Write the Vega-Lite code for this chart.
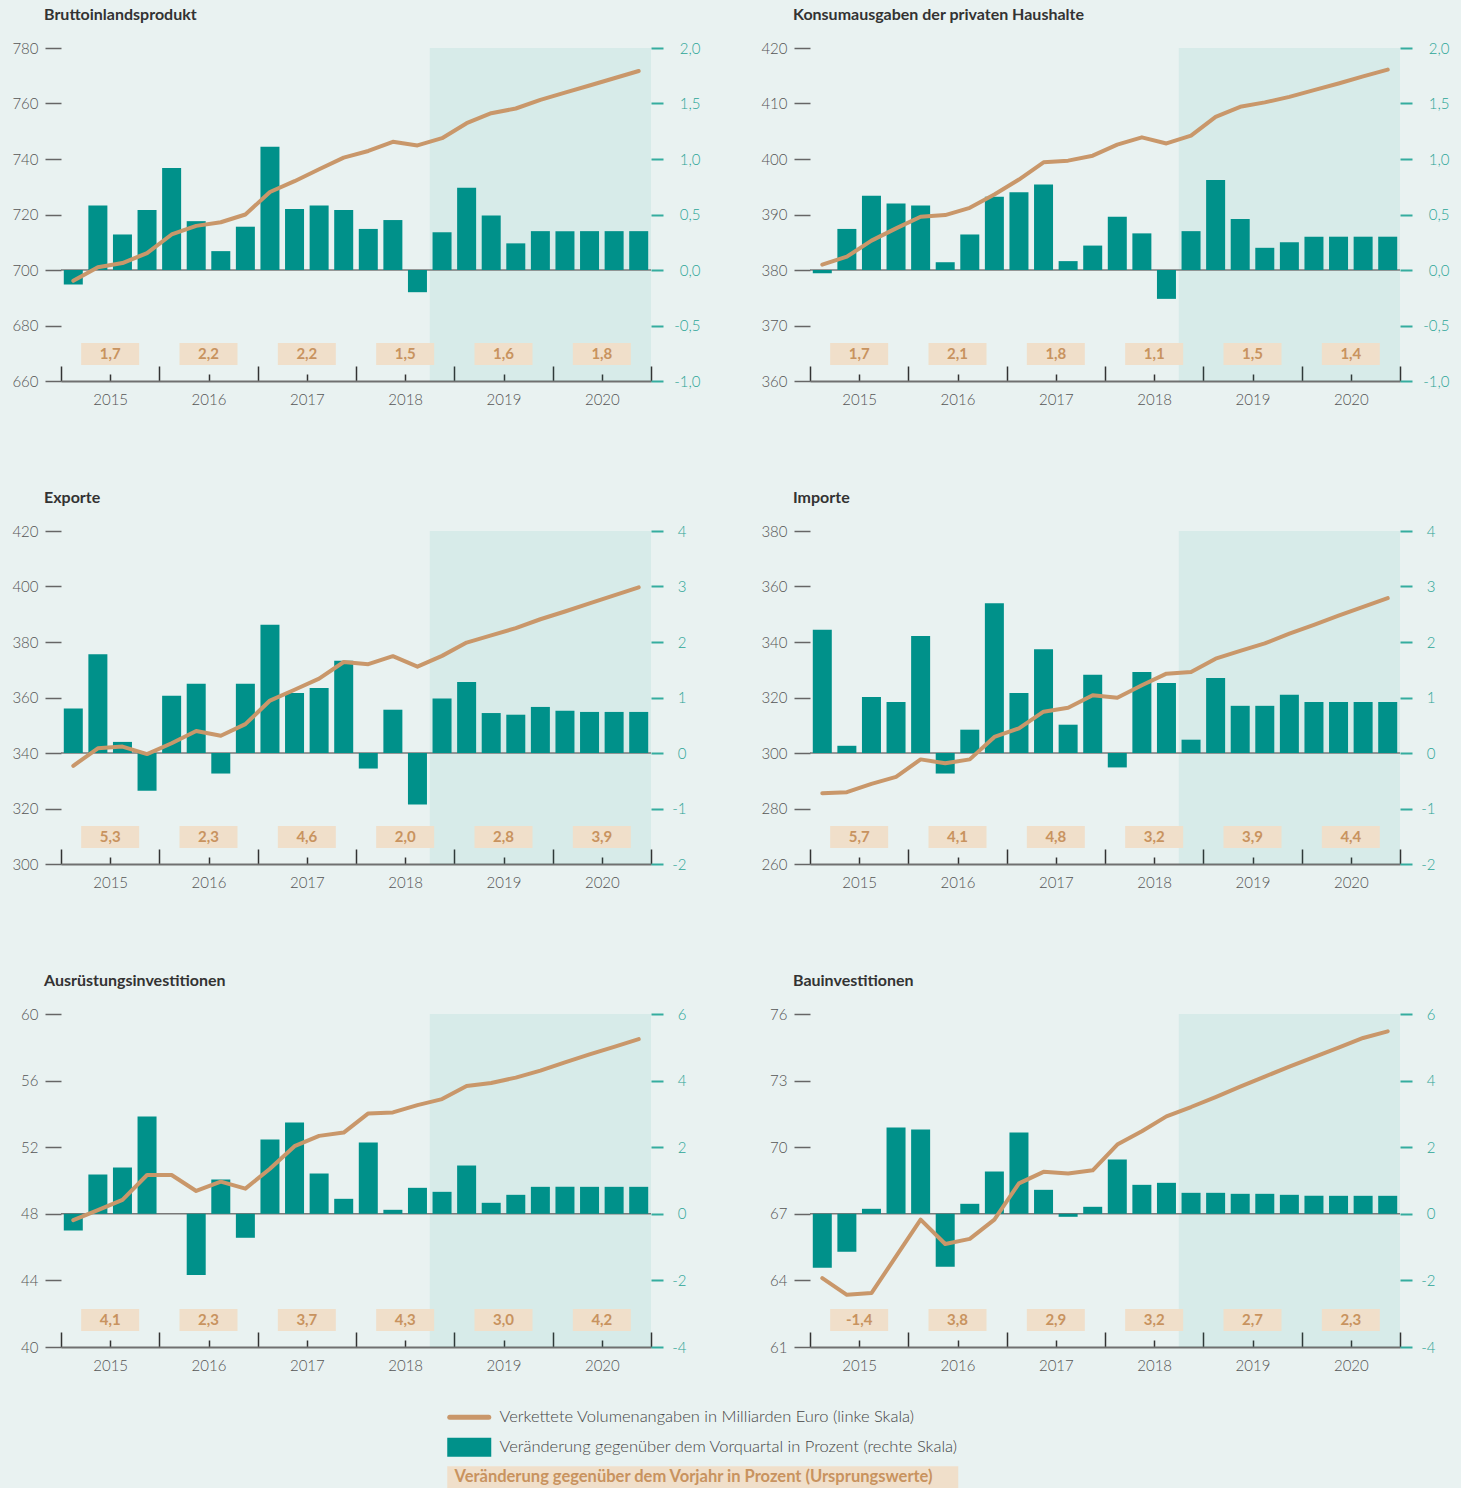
{
"$schema": "https://vega.github.io/schema/vega-lite/v6.json",
"background": "#e9f2f1",
"padding": {"left": 11, "top": 7, "right": 12, "bottom": 0},
"columns": 2,
"spacing": {"row": 83, "column": 60},
"resolve": {"scale": {"color": "shared"}, "legend": {"color": "shared"}},
"datasets": {
"q": [
{"p":"BIP","t":2015.125,"pct":-0.13,"vol":696.1},{"p":"BIP","t":2015.375,"pct":0.58,"vol":701.0},{"p":"BIP","t":2015.625,"pct":0.32,"vol":702.5},{"p":"BIP","t":2015.875,"pct":0.54,"vol":706.1},
{"p":"BIP","t":2016.125,"pct":0.92,"vol":712.8},{"p":"BIP","t":2016.375,"pct":0.44,"vol":715.9},{"p":"BIP","t":2016.625,"pct":0.17,"vol":717.2},{"p":"BIP","t":2016.875,"pct":0.39,"vol":720.0},
{"p":"BIP","t":2017.125,"pct":1.11,"vol":728.1},{"p":"BIP","t":2017.375,"pct":0.55,"vol":732.0},{"p":"BIP","t":2017.625,"pct":0.58,"vol":736.3},{"p":"BIP","t":2017.875,"pct":0.54,"vol":740.5},
{"p":"BIP","t":2018.125,"pct":0.37,"vol":742.9},{"p":"BIP","t":2018.375,"pct":0.45,"vol":746.2},{"p":"BIP","t":2018.625,"pct":-0.20,"vol":744.9},{"p":"BIP","t":2018.875,"pct":0.34,"vol":747.5},
{"p":"BIP","t":2019.125,"pct":0.74,"vol":752.9},{"p":"BIP","t":2019.375,"pct":0.49,"vol":756.5},{"p":"BIP","t":2019.625,"pct":0.24,"vol":758.2},{"p":"BIP","t":2019.875,"pct":0.35,"vol":761.3},
{"p":"BIP","t":2020.125,"pct":0.35,"vol":763.9},{"p":"BIP","t":2020.375,"pct":0.35,"vol":766.5},{"p":"BIP","t":2020.625,"pct":0.35,"vol":769.1},{"p":"BIP","t":2020.875,"pct":0.35,"vol":771.7},
{"p":"KON","t":2015.125,"pct":-0.03,"vol":380.96},{"p":"KON","t":2015.375,"pct":0.37,"vol":382.4},{"p":"KON","t":2015.625,"pct":0.67,"vol":385.3},{"p":"KON","t":2015.875,"pct":0.60,"vol":387.5},
{"p":"KON","t":2016.125,"pct":0.58,"vol":389.6},{"p":"KON","t":2016.375,"pct":0.07,"vol":389.9},{"p":"KON","t":2016.625,"pct":0.32,"vol":391.2},{"p":"KON","t":2016.875,"pct":0.66,"vol":393.6},
{"p":"KON","t":2017.125,"pct":0.70,"vol":396.3},{"p":"KON","t":2017.375,"pct":0.77,"vol":399.4},{"p":"KON","t":2017.625,"pct":0.08,"vol":399.7},{"p":"KON","t":2017.875,"pct":0.22,"vol":400.6},
{"p":"KON","t":2018.125,"pct":0.48,"vol":402.6},{"p":"KON","t":2018.375,"pct":0.33,"vol":403.9},{"p":"KON","t":2018.625,"pct":-0.26,"vol":402.8},{"p":"KON","t":2018.875,"pct":0.35,"vol":404.2},
{"p":"KON","t":2019.125,"pct":0.81,"vol":407.6},{"p":"KON","t":2019.375,"pct":0.46,"vol":409.4},{"p":"KON","t":2019.625,"pct":0.20,"vol":410.2},{"p":"KON","t":2019.875,"pct":0.25,"vol":411.2},
{"p":"KON","t":2020.125,"pct":0.30,"vol":412.4},{"p":"KON","t":2020.375,"pct":0.30,"vol":413.6},{"p":"KON","t":2020.625,"pct":0.30,"vol":414.9},{"p":"KON","t":2020.875,"pct":0.30,"vol":416.1},
{"p":"EXP","t":2015.125,"pct":0.80,"vol":335.4},{"p":"EXP","t":2015.375,"pct":1.78,"vol":341.7},{"p":"EXP","t":2015.625,"pct":0.20,"vol":342.3},{"p":"EXP","t":2015.875,"pct":-0.68,"vol":339.6},
{"p":"EXP","t":2016.125,"pct":1.03,"vol":343.5},{"p":"EXP","t":2016.375,"pct":1.25,"vol":347.9},{"p":"EXP","t":2016.625,"pct":-0.37,"vol":346.2},{"p":"EXP","t":2016.875,"pct":1.25,"vol":350.4},
{"p":"EXP","t":2017.125,"pct":2.31,"vol":358.9},{"p":"EXP","t":2017.375,"pct":1.08,"vol":362.8},{"p":"EXP","t":2017.625,"pct":1.17,"vol":366.8},{"p":"EXP","t":2017.875,"pct":1.66,"vol":372.8},
{"p":"EXP","t":2018.125,"pct":-0.28,"vol":372.0},{"p":"EXP","t":2018.375,"pct":0.78,"vol":374.9},{"p":"EXP","t":2018.625,"pct":-0.93,"vol":371.1},{"p":"EXP","t":2018.875,"pct":0.98,"vol":375.0},
{"p":"EXP","t":2019.125,"pct":1.28,"vol":379.8},{"p":"EXP","t":2019.375,"pct":0.72,"vol":382.4},{"p":"EXP","t":2019.625,"pct":0.69,"vol":385.0},{"p":"EXP","t":2019.875,"pct":0.83,"vol":388.2},
{"p":"EXP","t":2020.125,"pct":0.76,"vol":391.0},{"p":"EXP","t":2020.375,"pct":0.74,"vol":393.9},{"p":"EXP","t":2020.625,"pct":0.74,"vol":396.8},{"p":"EXP","t":2020.875,"pct":0.74,"vol":399.7},
{"p":"IMP","t":2015.125,"pct":2.22,"vol":285.5},{"p":"IMP","t":2015.375,"pct":0.13,"vol":285.9},{"p":"IMP","t":2015.625,"pct":1.01,"vol":288.9},{"p":"IMP","t":2015.875,"pct":0.92,"vol":291.4},
{"p":"IMP","t":2016.125,"pct":2.11,"vol":297.7},{"p":"IMP","t":2016.375,"pct":-0.37,"vol":296.3},{"p":"IMP","t":2016.625,"pct":0.42,"vol":297.7},{"p":"IMP","t":2016.875,"pct":2.70,"vol":305.8},
{"p":"IMP","t":2017.125,"pct":1.08,"vol":308.9},{"p":"IMP","t":2017.375,"pct":1.87,"vol":314.9},{"p":"IMP","t":2017.625,"pct":0.51,"vol":316.3},{"p":"IMP","t":2017.875,"pct":1.41,"vol":320.8},
{"p":"IMP","t":2018.125,"pct":-0.26,"vol":319.9},{"p":"IMP","t":2018.375,"pct":1.46,"vol":324.4},{"p":"IMP","t":2018.625,"pct":1.26,"vol":328.6},{"p":"IMP","t":2018.875,"pct":0.24,"vol":329.2},
{"p":"IMP","t":2019.125,"pct":1.35,"vol":334.0},{"p":"IMP","t":2019.375,"pct":0.85,"vol":336.8},{"p":"IMP","t":2019.625,"pct":0.85,"vol":339.5},{"p":"IMP","t":2019.875,"pct":1.05,"vol":343.0},
{"p":"IMP","t":2020.125,"pct":0.92,"vol":346.2},{"p":"IMP","t":2020.375,"pct":0.92,"vol":349.5},{"p":"IMP","t":2020.625,"pct":0.92,"vol":352.7},{"p":"IMP","t":2020.875,"pct":0.92,"vol":355.8},
{"p":"AUS","t":2015.125,"pct":-0.50,"vol":47.62},{"p":"AUS","t":2015.375,"pct":1.18,"vol":48.22},{"p":"AUS","t":2015.625,"pct":1.39,"vol":48.84},{"p":"AUS","t":2015.875,"pct":2.92,"vol":50.33},
{"p":"AUS","t":2016.125,"pct":0.0,"vol":50.33},{"p":"AUS","t":2016.375,"pct":-1.84,"vol":49.37},{"p":"AUS","t":2016.625,"pct":1.03,"vol":49.93},{"p":"AUS","t":2016.875,"pct":-0.72,"vol":49.51},
{"p":"AUS","t":2017.125,"pct":2.23,"vol":50.71},{"p":"AUS","t":2017.375,"pct":2.74,"vol":52.06},{"p":"AUS","t":2017.625,"pct":1.21,"vol":52.68},{"p":"AUS","t":2017.875,"pct":0.45,"vol":52.88},
{"p":"AUS","t":2018.125,"pct":2.14,"vol":54.03},{"p":"AUS","t":2018.375,"pct":0.12,"vol":54.09},{"p":"AUS","t":2018.625,"pct":0.78,"vol":54.53},{"p":"AUS","t":2018.875,"pct":0.66,"vol":54.89},
{"p":"AUS","t":2019.125,"pct":1.45,"vol":55.68},{"p":"AUS","t":2019.375,"pct":0.33,"vol":55.86},{"p":"AUS","t":2019.625,"pct":0.57,"vol":56.18},{"p":"AUS","t":2019.875,"pct":0.81,"vol":56.60},
{"p":"AUS","t":2020.125,"pct":0.81,"vol":57.09},{"p":"AUS","t":2020.375,"pct":0.81,"vol":57.57},{"p":"AUS","t":2020.625,"pct":0.81,"vol":58.03},{"p":"AUS","t":2020.875,"pct":0.81,"vol":58.49},
{"p":"BAU","t":2015.125,"pct":-1.62,"vol":64.10},{"p":"BAU","t":2015.375,"pct":-1.14,"vol":63.35},{"p":"BAU","t":2015.625,"pct":0.15,"vol":63.43},{"p":"BAU","t":2015.875,"pct":2.59,"vol":65.08},
{"p":"BAU","t":2016.125,"pct":2.53,"vol":66.74},{"p":"BAU","t":2016.375,"pct":-1.59,"vol":65.64},{"p":"BAU","t":2016.625,"pct":0.30,"vol":65.87},{"p":"BAU","t":2016.875,"pct":1.27,"vol":66.74},
{"p":"BAU","t":2017.125,"pct":2.44,"vol":68.37},{"p":"BAU","t":2017.375,"pct":0.72,"vol":68.89},{"p":"BAU","t":2017.625,"pct":-0.09,"vol":68.82},{"p":"BAU","t":2017.875,"pct":0.21,"vol":68.96},
{"p":"BAU","t":2018.125,"pct":1.63,"vol":70.12},{"p":"BAU","t":2018.375,"pct":0.87,"vol":70.72},{"p":"BAU","t":2018.625,"pct":0.93,"vol":71.39},{"p":"BAU","t":2018.875,"pct":0.63,"vol":71.81},
{"p":"BAU","t":2019.125,"pct":0.63,"vol":72.26},{"p":"BAU","t":2019.375,"pct":0.60,"vol":72.73},{"p":"BAU","t":2019.625,"pct":0.60,"vol":73.18},{"p":"BAU","t":2019.875,"pct":0.57,"vol":73.63},
{"p":"BAU","t":2020.125,"pct":0.54,"vol":74.06},{"p":"BAU","t":2020.375,"pct":0.54,"vol":74.49},{"p":"BAU","t":2020.625,"pct":0.54,"vol":74.92},{"p":"BAU","t":2020.875,"pct":0.54,"vol":75.22}
],
"a": [
{"p":"BIP","t":2015.5,"v":"1,7"},{"p":"BIP","t":2016.5,"v":"2,2"},{"p":"BIP","t":2017.5,"v":"2,2"},{"p":"BIP","t":2018.5,"v":"1,5"},{"p":"BIP","t":2019.5,"v":"1,6"},{"p":"BIP","t":2020.5,"v":"1,8"},
{"p":"KON","t":2015.5,"v":"1,7"},{"p":"KON","t":2016.5,"v":"2,1"},{"p":"KON","t":2017.5,"v":"1,8"},{"p":"KON","t":2018.5,"v":"1,1"},{"p":"KON","t":2019.5,"v":"1,5"},{"p":"KON","t":2020.5,"v":"1,4"},
{"p":"EXP","t":2015.5,"v":"5,3"},{"p":"EXP","t":2016.5,"v":"2,3"},{"p":"EXP","t":2017.5,"v":"4,6"},{"p":"EXP","t":2018.5,"v":"2,0"},{"p":"EXP","t":2019.5,"v":"2,8"},{"p":"EXP","t":2020.5,"v":"3,9"},
{"p":"IMP","t":2015.5,"v":"5,7"},{"p":"IMP","t":2016.5,"v":"4,1"},{"p":"IMP","t":2017.5,"v":"4,8"},{"p":"IMP","t":2018.5,"v":"3,2"},{"p":"IMP","t":2019.5,"v":"3,9"},{"p":"IMP","t":2020.5,"v":"4,4"},
{"p":"AUS","t":2015.5,"v":"4,1"},{"p":"AUS","t":2016.5,"v":"2,3"},{"p":"AUS","t":2017.5,"v":"3,7"},{"p":"AUS","t":2018.5,"v":"4,3"},{"p":"AUS","t":2019.5,"v":"3,0"},{"p":"AUS","t":2020.5,"v":"4,2"},
{"p":"BAU","t":2015.5,"v":"-1,4"},{"p":"BAU","t":2016.5,"v":"3,8"},{"p":"BAU","t":2017.5,"v":"2,9"},{"p":"BAU","t":2018.5,"v":"3,2"},{"p":"BAU","t":2019.5,"v":"2,7"},{"p":"BAU","t":2020.5,"v":"2,3"}
]
},
"concat": [
{
"title": "Bruttoinlandsprodukt",
"width": 590, "height": 333,
"resolve": {"scale": {"y": "independent"}},
"layer": [
{"data": {"values": [{}]}, "mark": {"type": "rect", "fill": "#00918a", "fillOpacity": 0.075},
 "encoding": {"x": {"datum": 2018.75, "type": "quantitative", "scale": {"domain": [2015, 2021], "nice": false, "zero": false, "padding": 0},
   "axis": {"values": [2015,2015.25,2015.5,2015.75,2016,2016.25,2016.5,2016.75,2017,2017.25,2017.5,2017.75,2018,2018.25,2018.5,2018.75,2019,2019.25,2019.5,2019.75,2020,2020.25,2020.5,2020.75,2021], "labelExpr": "datum.value % 1 === 0.5 ? toString(floor(datum.value)) : ''", "tickSize": {"condition": {"test": "datum.value % 1 === 0", "value": -15}, "value": -7}}},
  "x2": {"datum": 2021}}},
{"data": {"values": [{}]}, "mark": {"type": "rule", "color": "#787878", "strokeWidth": 1.5},
 "encoding": {"y": {"datum": 0, "type": "quantitative", "scale": {"domain": [-1, 2], "nice": false, "zero": false}, "axis": null}}},
{"data": {"name": "q"}, "transform": [{"filter": "datum.p === 'BIP'"}],
 "mark": {"type": "bar", "width": 19},
 "encoding": {"x": {"field": "t", "type": "quantitative", "scale": {"domain": [2015, 2021], "nice": false, "zero": false, "padding": 0}},
  "y": {"field": "pct", "type": "quantitative", "scale": {"domain": [-1, 2], "nice": false, "zero": false},
   "axis": {"orient": "right", "values": [-1,-0.5,0,0.5,1,1.5,2], "labelExpr": "replace(replace(format(datum.value, '.1f'), '.', ','), '−', '-')", "labelPadding": 37}},
  "color": {"datum": "b", "scale": {"domain": ["a", "b", "c"], "range": ["#c9976a", "#00918a", "#f0dfca"]},
   "legend": {"orient": "none", "legendX": 412, "legendY": 1361, "title": null, "symbolSize": 400, "labelOffset": 10, "rowPadding": 9, "padding": 0, "labelFont": "Lato", "labelFontSize": 16.5, "labelFontWeight": 300, "labelColor": "#444", "labelLimit": 800,
    "labelExpr": "datum.value === 'a' ? 'Verkettete Volumenangaben in Milliarden Euro (linke Skala)' : (datum.value === 'b' ? 'Veränderung gegenüber dem Vorquartal in Prozent (rechte Skala)' : 'Veränderung gegenüber dem Vorjahr in Prozent (Ursprungswerte)')",
    "encode": {
     "symbols": {"update": {
      "shape": {"signal": "datum.value === 'a' ? 'M-3.15,0H0.75' : (datum.value === 'b' ? 'M-3.4,-0.95H1V0.95H-3.4Z' : 'M-3.4,-1.1H47.7V1.1H-3.4Z')"},
      "fill": {"signal": "datum.value === 'a' ? 'transparent' : (datum.value === 'b' ? '#00918a' : '#f0dfca')"},
      "stroke": {"signal": "datum.value === 'a' ? '#c9976a' : 'transparent'"},
      "strokeWidth": {"signal": "datum.value === 'a' ? 5 : 0"},
      "strokeCap": {"value": "round"},
      "size": {"value": 400},
      "opacity": {"value": 1}, "fillOpacity": {"value": 1}, "strokeOpacity": {"value": 1}}},
     "labels": {"update": {
      "dx": {"signal": "datum.value === 'c' ? -45 : 0"},
      "fill": {"signal": "datum.value === 'c' ? '#c8935f' : '#444'"},
      "fontWeight": {"signal": "datum.value === 'c' ? 'bold' : 300"}}}}}}}},
{"data": {"name": "q"}, "transform": [{"filter": "datum.p === 'BIP'"}],
 "mark": {"type": "line", "strokeWidth": 4, "strokeCap": "round", "strokeJoin": "round"},
 "encoding": {"x": {"field": "t", "type": "quantitative", "scale": {"domain": [2015, 2021], "nice": false, "zero": false, "padding": 0}},
  "y": {"field": "vol", "type": "quantitative", "scale": {"domain": [660, 780], "nice": false, "zero": false},
   "axis": {"orient": "left", "values": [660,680,700,720,740,760,780]}},
  "color": {"datum": "a", "scale": {"domain": ["a", "b", "c"], "range": ["#c9976a", "#00918a", "#f0dfca"]}}}},
{"data": {"name": "a"}, "transform": [{"filter": "datum.p === 'BIP'"}],
 "mark": {"type": "rect", "width": 58, "height": 22},
 "encoding": {"x": {"field": "t", "type": "quantitative", "scale": {"domain": [2015, 2021], "nice": false, "zero": false, "padding": 0}},
  "y": {"datum": 0.081, "type": "quantitative", "scale": {"domain": [0, 1], "nice": false, "zero": false}, "axis": null},
  "color": {"datum": "c", "scale": {"domain": ["a", "b", "c"], "range": ["#c9976a", "#00918a", "#f0dfca"]}}}},
{"data": {"name": "a"}, "transform": [{"filter": "datum.p === 'BIP'"}],
 "mark": {"type": "text", "font": "Lato", "fontSize": 15, "fontWeight": "bold", "fill": "#c8935f"},
 "encoding": {"x": {"field": "t", "type": "quantitative", "scale": {"domain": [2015, 2021], "nice": false, "zero": false, "padding": 0}},
  "y": {"datum": 0.081, "type": "quantitative", "scale": {"domain": [0, 1], "nice": false, "zero": false}, "axis": null},
  "text": {"field": "v"}}}
]
},
{
"title": "Konsumausgaben der privaten Haushalte",
"width": 590, "height": 333,
"resolve": {"scale": {"y": "independent"}},
"layer": [
{"data": {"values": [{}]}, "mark": {"type": "rect", "fill": "#00918a", "fillOpacity": 0.075},
 "encoding": {"x": {"datum": 2018.75, "type": "quantitative", "scale": {"domain": [2015, 2021], "nice": false, "zero": false, "padding": 0},
   "axis": {"values": [2015,2015.25,2015.5,2015.75,2016,2016.25,2016.5,2016.75,2017,2017.25,2017.5,2017.75,2018,2018.25,2018.5,2018.75,2019,2019.25,2019.5,2019.75,2020,2020.25,2020.5,2020.75,2021], "labelExpr": "datum.value % 1 === 0.5 ? toString(floor(datum.value)) : ''", "tickSize": {"condition": {"test": "datum.value % 1 === 0", "value": -15}, "value": -7}}},
  "x2": {"datum": 2021}}},
{"data": {"values": [{}]}, "mark": {"type": "rule", "color": "#787878", "strokeWidth": 1.5},
 "encoding": {"y": {"datum": 0, "type": "quantitative", "scale": {"domain": [-1, 2], "nice": false, "zero": false}, "axis": null}}},
{"data": {"name": "q"}, "transform": [{"filter": "datum.p === 'KON'"}],
 "mark": {"type": "bar", "width": 19},
 "encoding": {"x": {"field": "t", "type": "quantitative", "scale": {"domain": [2015, 2021], "nice": false, "zero": false, "padding": 0}},
  "y": {"field": "pct", "type": "quantitative", "scale": {"domain": [-1, 2], "nice": false, "zero": false},
   "axis": {"orient": "right", "values": [-1,-0.5,0,0.5,1,1.5,2], "labelExpr": "replace(replace(format(datum.value, '.1f'), '.', ','), '−', '-')", "labelPadding": 37}},
  "color": {"datum": "b", "scale": {"domain": ["a", "b", "c"], "range": ["#c9976a", "#00918a", "#f0dfca"]}}}},
{"data": {"name": "q"}, "transform": [{"filter": "datum.p === 'KON'"}],
 "mark": {"type": "line", "strokeWidth": 4, "strokeCap": "round", "strokeJoin": "round"},
 "encoding": {"x": {"field": "t", "type": "quantitative", "scale": {"domain": [2015, 2021], "nice": false, "zero": false, "padding": 0}},
  "y": {"field": "vol", "type": "quantitative", "scale": {"domain": [360, 420], "nice": false, "zero": false},
   "axis": {"orient": "left", "values": [360,370,380,390,400,410,420]}},
  "color": {"datum": "a", "scale": {"domain": ["a", "b", "c"], "range": ["#c9976a", "#00918a", "#f0dfca"]}}}},
{"data": {"name": "a"}, "transform": [{"filter": "datum.p === 'KON'"}],
 "mark": {"type": "rect", "width": 58, "height": 22},
 "encoding": {"x": {"field": "t", "type": "quantitative", "scale": {"domain": [2015, 2021], "nice": false, "zero": false, "padding": 0}},
  "y": {"datum": 0.081, "type": "quantitative", "scale": {"domain": [0, 1], "nice": false, "zero": false}, "axis": null},
  "color": {"datum": "c", "scale": {"domain": ["a", "b", "c"], "range": ["#c9976a", "#00918a", "#f0dfca"]}}}},
{"data": {"name": "a"}, "transform": [{"filter": "datum.p === 'KON'"}],
 "mark": {"type": "text", "font": "Lato", "fontSize": 15, "fontWeight": "bold", "fill": "#c8935f"},
 "encoding": {"x": {"field": "t", "type": "quantitative", "scale": {"domain": [2015, 2021], "nice": false, "zero": false, "padding": 0}},
  "y": {"datum": 0.081, "type": "quantitative", "scale": {"domain": [0, 1], "nice": false, "zero": false}, "axis": null},
  "text": {"field": "v"}}}
]
},
{
"title": "Exporte",
"width": 590, "height": 333,
"resolve": {"scale": {"y": "independent"}},
"layer": [
{"data": {"values": [{}]}, "mark": {"type": "rect", "fill": "#00918a", "fillOpacity": 0.075},
 "encoding": {"x": {"datum": 2018.75, "type": "quantitative", "scale": {"domain": [2015, 2021], "nice": false, "zero": false, "padding": 0},
   "axis": {"values": [2015,2015.25,2015.5,2015.75,2016,2016.25,2016.5,2016.75,2017,2017.25,2017.5,2017.75,2018,2018.25,2018.5,2018.75,2019,2019.25,2019.5,2019.75,2020,2020.25,2020.5,2020.75,2021], "labelExpr": "datum.value % 1 === 0.5 ? toString(floor(datum.value)) : ''", "tickSize": {"condition": {"test": "datum.value % 1 === 0", "value": -15}, "value": -7}}},
  "x2": {"datum": 2021}}},
{"data": {"values": [{}]}, "mark": {"type": "rule", "color": "#787878", "strokeWidth": 1.5},
 "encoding": {"y": {"datum": 0, "type": "quantitative", "scale": {"domain": [-2, 4], "nice": false, "zero": false}, "axis": null}}},
{"data": {"name": "q"}, "transform": [{"filter": "datum.p === 'EXP'"}],
 "mark": {"type": "bar", "width": 19},
 "encoding": {"x": {"field": "t", "type": "quantitative", "scale": {"domain": [2015, 2021], "nice": false, "zero": false, "padding": 0}},
  "y": {"field": "pct", "type": "quantitative", "scale": {"domain": [-2, 4], "nice": false, "zero": false},
   "axis": {"orient": "right", "values": [-2,-1,0,1,2,3,4], "labelExpr": "replace(format(datum.value, 'd'), '−', '-')", "labelPadding": 23}},
  "color": {"datum": "b", "scale": {"domain": ["a", "b", "c"], "range": ["#c9976a", "#00918a", "#f0dfca"]}}}},
{"data": {"name": "q"}, "transform": [{"filter": "datum.p === 'EXP'"}],
 "mark": {"type": "line", "strokeWidth": 4, "strokeCap": "round", "strokeJoin": "round"},
 "encoding": {"x": {"field": "t", "type": "quantitative", "scale": {"domain": [2015, 2021], "nice": false, "zero": false, "padding": 0}},
  "y": {"field": "vol", "type": "quantitative", "scale": {"domain": [300, 420], "nice": false, "zero": false},
   "axis": {"orient": "left", "values": [300,320,340,360,380,400,420]}},
  "color": {"datum": "a", "scale": {"domain": ["a", "b", "c"], "range": ["#c9976a", "#00918a", "#f0dfca"]}}}},
{"data": {"name": "a"}, "transform": [{"filter": "datum.p === 'EXP'"}],
 "mark": {"type": "rect", "width": 58, "height": 22},
 "encoding": {"x": {"field": "t", "type": "quantitative", "scale": {"domain": [2015, 2021], "nice": false, "zero": false, "padding": 0}},
  "y": {"datum": 0.081, "type": "quantitative", "scale": {"domain": [0, 1], "nice": false, "zero": false}, "axis": null},
  "color": {"datum": "c", "scale": {"domain": ["a", "b", "c"], "range": ["#c9976a", "#00918a", "#f0dfca"]}}}},
{"data": {"name": "a"}, "transform": [{"filter": "datum.p === 'EXP'"}],
 "mark": {"type": "text", "font": "Lato", "fontSize": 15, "fontWeight": "bold", "fill": "#c8935f"},
 "encoding": {"x": {"field": "t", "type": "quantitative", "scale": {"domain": [2015, 2021], "nice": false, "zero": false, "padding": 0}},
  "y": {"datum": 0.081, "type": "quantitative", "scale": {"domain": [0, 1], "nice": false, "zero": false}, "axis": null},
  "text": {"field": "v"}}}
]
},
{
"title": "Importe",
"width": 590, "height": 333,
"resolve": {"scale": {"y": "independent"}},
"layer": [
{"data": {"values": [{}]}, "mark": {"type": "rect", "fill": "#00918a", "fillOpacity": 0.075},
 "encoding": {"x": {"datum": 2018.75, "type": "quantitative", "scale": {"domain": [2015, 2021], "nice": false, "zero": false, "padding": 0},
   "axis": {"values": [2015,2015.25,2015.5,2015.75,2016,2016.25,2016.5,2016.75,2017,2017.25,2017.5,2017.75,2018,2018.25,2018.5,2018.75,2019,2019.25,2019.5,2019.75,2020,2020.25,2020.5,2020.75,2021], "labelExpr": "datum.value % 1 === 0.5 ? toString(floor(datum.value)) : ''", "tickSize": {"condition": {"test": "datum.value % 1 === 0", "value": -15}, "value": -7}}},
  "x2": {"datum": 2021}}},
{"data": {"values": [{}]}, "mark": {"type": "rule", "color": "#787878", "strokeWidth": 1.5},
 "encoding": {"y": {"datum": 0, "type": "quantitative", "scale": {"domain": [-2, 4], "nice": false, "zero": false}, "axis": null}}},
{"data": {"name": "q"}, "transform": [{"filter": "datum.p === 'IMP'"}],
 "mark": {"type": "bar", "width": 19},
 "encoding": {"x": {"field": "t", "type": "quantitative", "scale": {"domain": [2015, 2021], "nice": false, "zero": false, "padding": 0}},
  "y": {"field": "pct", "type": "quantitative", "scale": {"domain": [-2, 4], "nice": false, "zero": false},
   "axis": {"orient": "right", "values": [-2,-1,0,1,2,3,4], "labelExpr": "replace(format(datum.value, 'd'), '−', '-')", "labelPadding": 23}},
  "color": {"datum": "b", "scale": {"domain": ["a", "b", "c"], "range": ["#c9976a", "#00918a", "#f0dfca"]}}}},
{"data": {"name": "q"}, "transform": [{"filter": "datum.p === 'IMP'"}],
 "mark": {"type": "line", "strokeWidth": 4, "strokeCap": "round", "strokeJoin": "round"},
 "encoding": {"x": {"field": "t", "type": "quantitative", "scale": {"domain": [2015, 2021], "nice": false, "zero": false, "padding": 0}},
  "y": {"field": "vol", "type": "quantitative", "scale": {"domain": [260, 380], "nice": false, "zero": false},
   "axis": {"orient": "left", "values": [260,280,300,320,340,360,380]}},
  "color": {"datum": "a", "scale": {"domain": ["a", "b", "c"], "range": ["#c9976a", "#00918a", "#f0dfca"]}}}},
{"data": {"name": "a"}, "transform": [{"filter": "datum.p === 'IMP'"}],
 "mark": {"type": "rect", "width": 58, "height": 22},
 "encoding": {"x": {"field": "t", "type": "quantitative", "scale": {"domain": [2015, 2021], "nice": false, "zero": false, "padding": 0}},
  "y": {"datum": 0.081, "type": "quantitative", "scale": {"domain": [0, 1], "nice": false, "zero": false}, "axis": null},
  "color": {"datum": "c", "scale": {"domain": ["a", "b", "c"], "range": ["#c9976a", "#00918a", "#f0dfca"]}}}},
{"data": {"name": "a"}, "transform": [{"filter": "datum.p === 'IMP'"}],
 "mark": {"type": "text", "font": "Lato", "fontSize": 15, "fontWeight": "bold", "fill": "#c8935f"},
 "encoding": {"x": {"field": "t", "type": "quantitative", "scale": {"domain": [2015, 2021], "nice": false, "zero": false, "padding": 0}},
  "y": {"datum": 0.081, "type": "quantitative", "scale": {"domain": [0, 1], "nice": false, "zero": false}, "axis": null},
  "text": {"field": "v"}}}
]
},
{
"title": "Ausrüstungsinvestitionen",
"width": 590, "height": 333,
"resolve": {"scale": {"y": "independent"}},
"layer": [
{"data": {"values": [{}]}, "mark": {"type": "rect", "fill": "#00918a", "fillOpacity": 0.075},
 "encoding": {"x": {"datum": 2018.75, "type": "quantitative", "scale": {"domain": [2015, 2021], "nice": false, "zero": false, "padding": 0},
   "axis": {"values": [2015,2015.25,2015.5,2015.75,2016,2016.25,2016.5,2016.75,2017,2017.25,2017.5,2017.75,2018,2018.25,2018.5,2018.75,2019,2019.25,2019.5,2019.75,2020,2020.25,2020.5,2020.75,2021], "labelExpr": "datum.value % 1 === 0.5 ? toString(floor(datum.value)) : ''", "tickSize": {"condition": {"test": "datum.value % 1 === 0", "value": -15}, "value": -7}}},
  "x2": {"datum": 2021}}},
{"data": {"values": [{}]}, "mark": {"type": "rule", "color": "#787878", "strokeWidth": 1.5},
 "encoding": {"y": {"datum": 0, "type": "quantitative", "scale": {"domain": [-4, 6], "nice": false, "zero": false}, "axis": null}}},
{"data": {"name": "q"}, "transform": [{"filter": "datum.p === 'AUS'"}],
 "mark": {"type": "bar", "width": 19},
 "encoding": {"x": {"field": "t", "type": "quantitative", "scale": {"domain": [2015, 2021], "nice": false, "zero": false, "padding": 0}},
  "y": {"field": "pct", "type": "quantitative", "scale": {"domain": [-4, 6], "nice": false, "zero": false},
   "axis": {"orient": "right", "values": [-4,-2,0,2,4,6], "labelExpr": "replace(format(datum.value, 'd'), '−', '-')", "labelPadding": 23}},
  "color": {"datum": "b", "scale": {"domain": ["a", "b", "c"], "range": ["#c9976a", "#00918a", "#f0dfca"]}}}},
{"data": {"name": "q"}, "transform": [{"filter": "datum.p === 'AUS'"}],
 "mark": {"type": "line", "strokeWidth": 4, "strokeCap": "round", "strokeJoin": "round"},
 "encoding": {"x": {"field": "t", "type": "quantitative", "scale": {"domain": [2015, 2021], "nice": false, "zero": false, "padding": 0}},
  "y": {"field": "vol", "type": "quantitative", "scale": {"domain": [40, 60], "nice": false, "zero": false},
   "axis": {"orient": "left", "values": [40,44,48,52,56,60]}},
  "color": {"datum": "a", "scale": {"domain": ["a", "b", "c"], "range": ["#c9976a", "#00918a", "#f0dfca"]}}}},
{"data": {"name": "a"}, "transform": [{"filter": "datum.p === 'AUS'"}],
 "mark": {"type": "rect", "width": 58, "height": 22},
 "encoding": {"x": {"field": "t", "type": "quantitative", "scale": {"domain": [2015, 2021], "nice": false, "zero": false, "padding": 0}},
  "y": {"datum": 0.081, "type": "quantitative", "scale": {"domain": [0, 1], "nice": false, "zero": false}, "axis": null},
  "color": {"datum": "c", "scale": {"domain": ["a", "b", "c"], "range": ["#c9976a", "#00918a", "#f0dfca"]}}}},
{"data": {"name": "a"}, "transform": [{"filter": "datum.p === 'AUS'"}],
 "mark": {"type": "text", "font": "Lato", "fontSize": 15, "fontWeight": "bold", "fill": "#c8935f"},
 "encoding": {"x": {"field": "t", "type": "quantitative", "scale": {"domain": [2015, 2021], "nice": false, "zero": false, "padding": 0}},
  "y": {"datum": 0.081, "type": "quantitative", "scale": {"domain": [0, 1], "nice": false, "zero": false}, "axis": null},
  "text": {"field": "v"}}}
]
},
{
"title": "Bauinvestitionen",
"width": 590, "height": 333,
"resolve": {"scale": {"y": "independent"}},
"layer": [
{"data": {"values": [{}]}, "mark": {"type": "rect", "fill": "#00918a", "fillOpacity": 0.075},
 "encoding": {"x": {"datum": 2018.75, "type": "quantitative", "scale": {"domain": [2015, 2021], "nice": false, "zero": false, "padding": 0},
   "axis": {"values": [2015,2015.25,2015.5,2015.75,2016,2016.25,2016.5,2016.75,2017,2017.25,2017.5,2017.75,2018,2018.25,2018.5,2018.75,2019,2019.25,2019.5,2019.75,2020,2020.25,2020.5,2020.75,2021], "labelExpr": "datum.value % 1 === 0.5 ? toString(floor(datum.value)) : ''", "tickSize": {"condition": {"test": "datum.value % 1 === 0", "value": -15}, "value": -7}}},
  "x2": {"datum": 2021}}},
{"data": {"values": [{}]}, "mark": {"type": "rule", "color": "#787878", "strokeWidth": 1.5},
 "encoding": {"y": {"datum": 0, "type": "quantitative", "scale": {"domain": [-4, 6], "nice": false, "zero": false}, "axis": null}}},
{"data": {"name": "q"}, "transform": [{"filter": "datum.p === 'BAU'"}],
 "mark": {"type": "bar", "width": 19},
 "encoding": {"x": {"field": "t", "type": "quantitative", "scale": {"domain": [2015, 2021], "nice": false, "zero": false, "padding": 0}},
  "y": {"field": "pct", "type": "quantitative", "scale": {"domain": [-4, 6], "nice": false, "zero": false},
   "axis": {"orient": "right", "values": [-4,-2,0,2,4,6], "labelExpr": "replace(format(datum.value, 'd'), '−', '-')", "labelPadding": 23}},
  "color": {"datum": "b", "scale": {"domain": ["a", "b", "c"], "range": ["#c9976a", "#00918a", "#f0dfca"]}}}},
{"data": {"name": "q"}, "transform": [{"filter": "datum.p === 'BAU'"}],
 "mark": {"type": "line", "strokeWidth": 4, "strokeCap": "round", "strokeJoin": "round"},
 "encoding": {"x": {"field": "t", "type": "quantitative", "scale": {"domain": [2015, 2021], "nice": false, "zero": false, "padding": 0}},
  "y": {"field": "vol", "type": "quantitative", "scale": {"domain": [61, 76], "nice": false, "zero": false},
   "axis": {"orient": "left", "values": [61,64,67,70,73,76]}},
  "color": {"datum": "a", "scale": {"domain": ["a", "b", "c"], "range": ["#c9976a", "#00918a", "#f0dfca"]}}}},
{"data": {"name": "a"}, "transform": [{"filter": "datum.p === 'BAU'"}],
 "mark": {"type": "rect", "width": 58, "height": 22},
 "encoding": {"x": {"field": "t", "type": "quantitative", "scale": {"domain": [2015, 2021], "nice": false, "zero": false, "padding": 0}},
  "y": {"datum": 0.081, "type": "quantitative", "scale": {"domain": [0, 1], "nice": false, "zero": false}, "axis": null},
  "color": {"datum": "c", "scale": {"domain": ["a", "b", "c"], "range": ["#c9976a", "#00918a", "#f0dfca"]}}}},
{"data": {"name": "a"}, "transform": [{"filter": "datum.p === 'BAU'"}],
 "mark": {"type": "text", "font": "Lato", "fontSize": 15, "fontWeight": "bold", "fill": "#c8935f"},
 "encoding": {"x": {"field": "t", "type": "quantitative", "scale": {"domain": [2015, 2021], "nice": false, "zero": false, "padding": 0}},
  "y": {"datum": 0.081, "type": "quantitative", "scale": {"domain": [0, 1], "nice": false, "zero": false}, "axis": null},
  "text": {"field": "v"}}}
]
}
],
"config": {
 "view": {"stroke": null},
 "font": "Lato",
 "title": {"anchor": "start", "frame": "group", "font": "Lato", "fontSize": 16, "fontWeight": "bold", "color": "#333", "dx": -17, "offset": 18},
 "axis": {"labelFont": "Lato", "labelFontSize": 15, "labelFontWeight": 300, "labelColor": "#555", "title": null},
 "axisBottom": {"labelPadding": 18, "domain": true, "domainColor": "#707070", "domainWidth": 2, "ticks": true, "tickColor": "#333", "tickWidth": 1.5, "grid": false, "labelFlush": false, "labelOverlap": false},
 "axisLeft": {"grid": true, "gridDash": [1.5, 4], "gridColor": "#bcc6c5", "gridWidth": 1.5, "domain": false, "tickSize": 16, "tickColor": "#666", "tickWidth": 1.5, "labelPadding": 7, "minExtent": 50, "maxExtent": 50},
 "axisRight": {"grid": false, "domain": false, "tickSize": 12, "tickColor": "#35ad9f", "tickWidth": 2, "labelColor": "#2ca597", "labelAlign": "right", "minExtent": 49, "maxExtent": 49}
}
}
